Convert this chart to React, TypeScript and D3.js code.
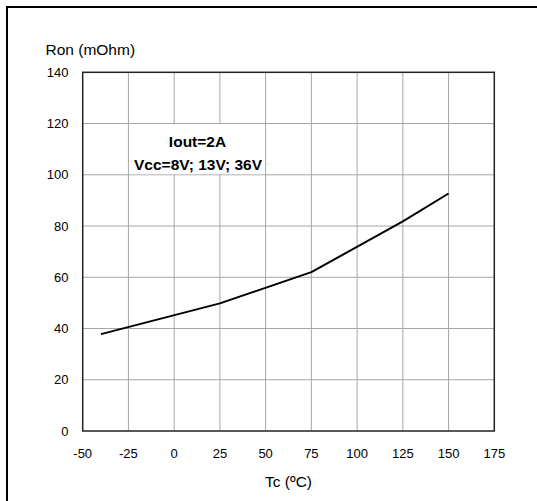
import React from 'react';
import * as d3 from 'd3';

// Ron vs case temperature, Iout=2A
const tempC = [-40, 25, 75, 125, 150];
const ronMOhm = [37.8, 49.8, 62, 81.8, 92.7];

const xTicks = [-50, -25, 0, 25, 50, 75, 100, 125, 150, 175];
const yTicks = [0, 20, 40, 60, 80, 100, 120, 140];

const W = 537;
const H = 501;
const plot = { left: 82.7, right: 494.3, top: 72.3, bottom: 431 };
const FONT = 'Liberation Sans, Arial, sans-serif';

const App: React.FC = () => {
  const x = d3.scaleLinear().domain([-50, 175]).range([plot.left, plot.right]);
  const y = d3.scaleLinear().domain([0, 140]).range([plot.bottom, plot.top]);

  const line = d3
    .line<number>()
    .x((_, i) => x(tempC[i]))
    .y(d => y(d));

  return (
    <svg
      width={W}
      height={H}
      viewBox={`0 0 ${W} ${H}`}
      style={{ position: 'absolute', left: 0, top: 0, background: '#fff' }}
    >
      {/* outer frame, cut by the picture edge */}
      <rect x={7} y={7} width={W + 20} height={H + 20} fill="none" stroke="#000" strokeWidth={2} />

      {/* grid */}
      {xTicks.slice(1, -1).map(t => (
        <line key={'gx' + t} x1={x(t)} x2={x(t)} y1={plot.top} y2={plot.bottom} stroke="#a6a6a6" strokeWidth={1} />
      ))}
      {yTicks.slice(1, -1).map(t => (
        <line key={'gy' + t} x1={plot.left} x2={plot.right} y1={y(t)} y2={y(t)} stroke="#a6a6a6" strokeWidth={1} />
      ))}

      {/* annotation box */}
      <rect
        x={x(-25) + 1}
        y={y(120) + 0.6}
        width={x(50) - x(-25) - 2}
        height={y(100) - y(120) - 1.2}
        fill="#fff"
      />
      <text x={197.5} y={147} textAnchor="middle" fontFamily={FONT} fontWeight="bold" fontSize={15.5} fill="#000">
        Iout=2A
      </text>
      <text x={198} y={169.5} textAnchor="middle" fontFamily={FONT} fontWeight="bold" fontSize={15.5} fill="#000">
        Vcc=8V; 13V; 36V
      </text>

      {/* plot frame */}
      <rect
        x={plot.left}
        y={plot.top}
        width={plot.right - plot.left}
        height={plot.bottom - plot.top}
        fill="none"
        stroke="#222"
        strokeWidth={1.5}
      />

      {/* data */}
      <path d={line(ronMOhm) || ''} fill="none" stroke="#000" strokeWidth={2} strokeLinejoin="round" />

      {/* y ticks */}
      {yTicks.map(t => (
        <text key={'yt' + t} x={68.5} y={y(t) + 4.7} textAnchor="end" fontFamily={FONT} fontSize={13} fill="#000">
          {t}
        </text>
      ))}
      {/* x ticks */}
      {xTicks.map(t => (
        <text key={'xt' + t} x={x(t)} y={457.5} textAnchor="middle" fontFamily={FONT} fontSize={13} fill="#000">
          {t}
        </text>
      ))}

      {/* axis titles */}
      <text x={45.5} y={54.5} fontFamily={FONT} fontSize={15.5} fill="#000">
        Ron (mOhm)
      </text>
      <text x={(plot.left + plot.right) / 2} y={487} textAnchor="middle" fontFamily={FONT} fontSize={15.5} fill="#000">
        Tc (ºC)
      </text>
    </svg>
  );
};

export default App;
